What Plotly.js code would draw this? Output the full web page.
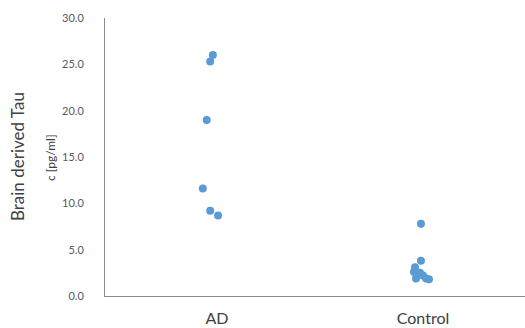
<!DOCTYPE html>
<html>
<head>
<meta charset="utf-8">
<script src="https://cdn.plot.ly/plotly-3.0.1.min.js"></script>
<style>
  html, body { margin: 0; padding: 0; background: #ffffff; }
  #chart { width: 525px; height: 328px; }
</style>
</head>
<body>
<div id="chart"></div>
<script>
// Group labels on the x axis
const categories = ['AD', 'Control'];

// Brain derived Tau concentration, c [pg/ml], per subject
const adValues = [26.0, 25.3, 19.0, 11.6, 9.2, 8.7];
const controlValues = [7.8, 3.8, 3.1, 2.6, 1.9, 2.5, 2.2, 1.8, 1.9];

// Horizontal scatter offsets of each dot around its group position
const adJitter = [-0.02, -0.033, -0.05, -0.069, -0.033, 0.005];
const controlJitter = [-0.01, -0.01, -0.039, -0.044, -0.034, -0.015, 0.0, 0.029, 0.015];

// Y axis tick labels
const yTickValues = [0, 5, 10, 15, 20, 25, 30];
const yTickLabels = ['0.0', '5.0', '10.0', '15.0', '20.0', '25.0', '30.0'];

const groups = [adValues, controlValues];
const jitters = [adJitter, controlJitter];

const xs = [];
const ys = [];
groups.forEach((vals, gi) => {
  vals.forEach((v, i) => {
    xs.push(gi + jitters[gi][i]);
    ys.push(v);
  });
});

const FONT = 'Lato, "Open Sans", sans-serif';

const trace = {
  type: 'scatter',
  mode: 'markers',
  x: xs,
  y: ys,
  marker: { color: '#5B9BD5', size: 8, line: { width: 0 } },
  cliponaxis: false,
  hoverinfo: 'y'
};

const layout = {
  width: 525,
  height: 328,
  margin: { l: 105, r: 0, t: 18, b: 32, pad: 0 },
  paper_bgcolor: '#ffffff',
  plot_bgcolor: '#ffffff',
  showlegend: false,
  font: { family: FONT, color: '#595959' },
  xaxis: {
    range: [-0.5437, 1.495],
    tickvals: [0, 1],
    ticktext: categories,
    showgrid: false,
    zeroline: false,
    showline: true,
    linecolor: '#8c8c8c',
    linewidth: 1,
    ticks: '',
    tickfont: { family: FONT, size: 16, color: '#404040' },
    ticklabelstandoff: 8,
    fixedrange: true
  },
  yaxis: {
    range: [0, 30],
    tickvals: yTickValues,
    ticktext: yTickLabels,
    showgrid: false,
    zeroline: false,
    showline: true,
    linecolor: '#8c8c8c',
    linewidth: 1,
    ticks: '',
    tickfont: { family: FONT, size: 11, color: '#595959' },
    ticklabelstandoff: 18,
    fixedrange: true
  },
  annotations: [
    {
      text: 'Brain derived Tau',
      xref: 'paper', yref: 'paper',
      x: -0.2095, y: 0.5,
      xanchor: 'center', yanchor: 'middle',
      textangle: -90,
      showarrow: false,
      font: { family: FONT, size: 17, color: '#404040' }
    },
    {
      text: 'c [pg/ml]',
      xref: 'paper', yref: 'paper',
      x: -0.131, y: 0.5,
      xanchor: 'center', yanchor: 'middle',
      textangle: -90,
      showarrow: false,
      font: { family: FONT, size: 12, color: '#404040' }
    }
  ]
};

Plotly.newPlot('chart', [trace], layout, { displayModeBar: false, staticPlot: true });
</script>
</body>
</html>
